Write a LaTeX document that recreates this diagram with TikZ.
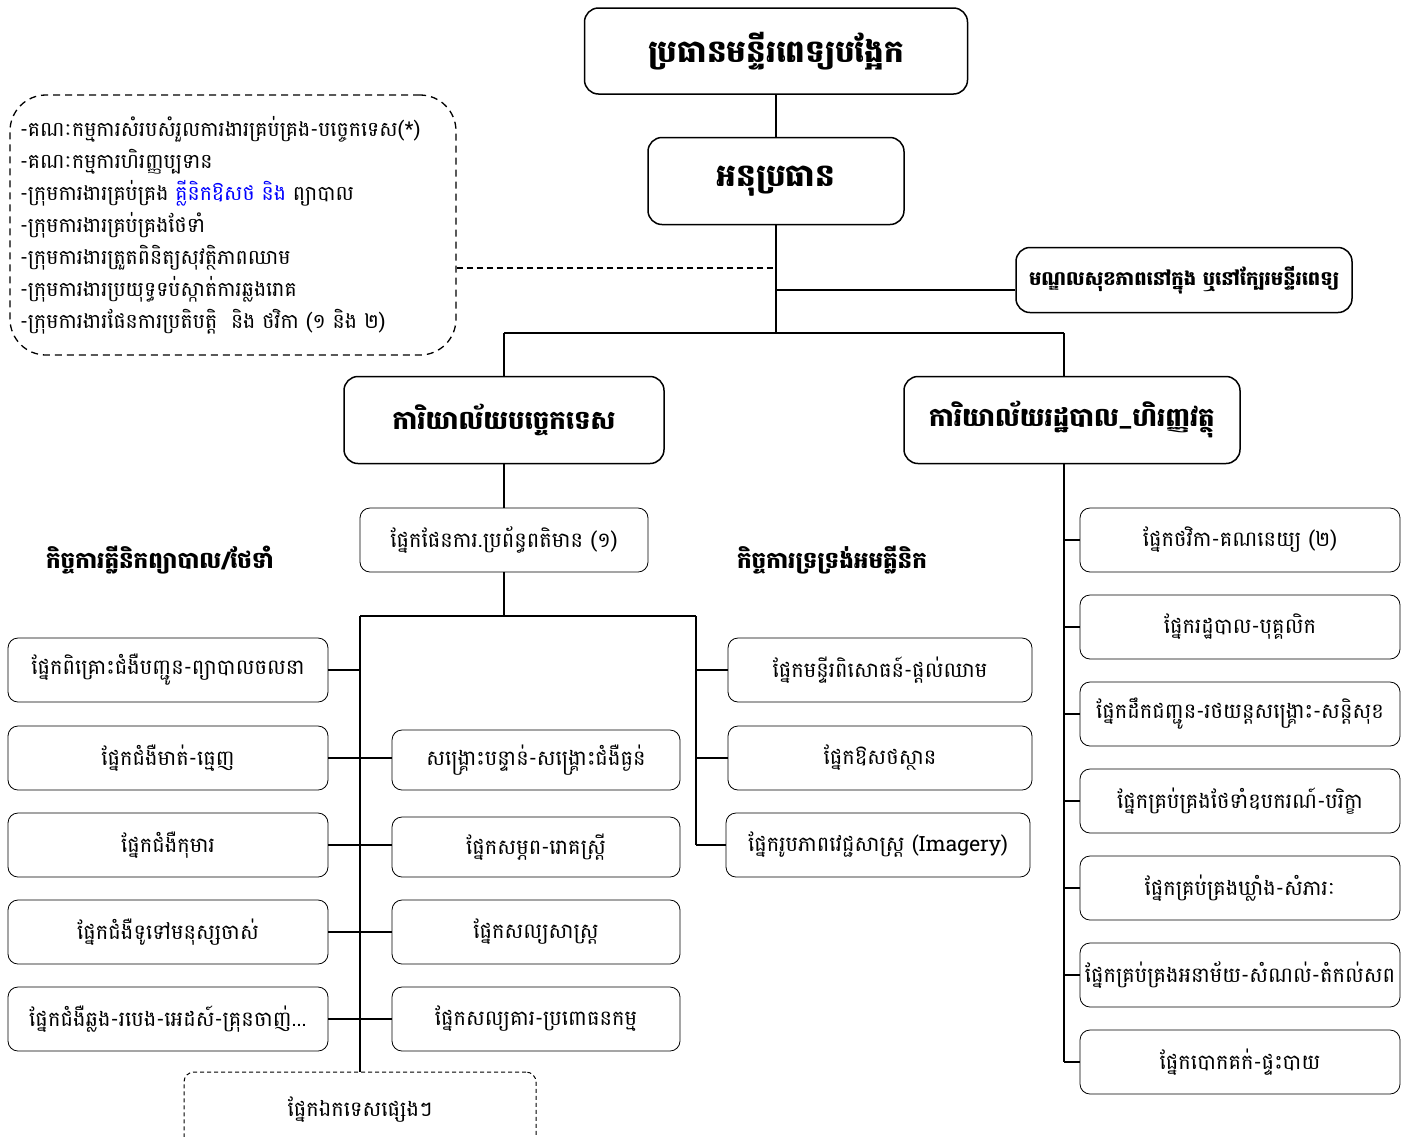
\documentclass[tikz,border=0pt]{standalone}
\usepackage{fontspec}
\newfontfamily\khmerfont[Script=Khmer]{Battambang}
\usetikzlibrary{positioning}

\begin{document}
\begin{tikzpicture}[x=1pt, y=-1pt,
    font=\khmerfont\fontsize{21}{32}\selectfont,
    topbox/.style={draw, rounded corners=14pt, line width=1.5pt, align=center,
        font=\khmerfont\bfseries\fontsize{31}{36}\selectfont},
    officebox/.style={topbox, font=\khmerfont\bfseries\fontsize{26}{30}\selectfont},
    wardbox/.style={draw, rounded corners=10pt, line width=0.8pt, align=center, minimum height=64pt},
    notebox/.style={draw, dash pattern=on 7pt off 5pt, line width=1.3pt, rounded corners=36pt},
    groupname/.style={font=\khmerfont\bfseries\fontsize{23}{28}\selectfont},
    link/.style={line width=1.4pt}]
    \useasboundingbox (0,0) rectangle (1414,1136);
    % leadership
    \node[topbox, minimum width=383pt, minimum height=86pt] (chief) at (776,51) {ប្រធានមន្ទីរពេទ្យបង្អែក};
    \node[topbox, minimum width=256pt, minimum height=87pt] (deputy) at (776,181) {អនុប្រធាន};
    \node[topbox, font=\khmerfont\bfseries\fontsize{19.5}{24}\selectfont, minimum width=336pt, minimum height=65pt] (centre) at (1184,280) {មណ្ឌលសុខភាពនៅក្នុង ឬនៅក្បែរមន្ទីរពេទ្យ};
    \node[notebox, font=\khmerfont\fontsize{20.5}{32}\selectfont, minimum width=446pt, minimum height=260pt, text width=426pt, align=left] (groups) at (233,225)
        {-គណៈកម្មការសំរបសំរួលការងារគ្រប់គ្រង-បច្ចេកទេស(*)\\
         -គណៈកម្មការហិរញ្ញប្បទាន\\
         -ក្រុមការងារគ្រប់គ្រង \textcolor{blue}{គ្លីនិកឱសថ និង} ព្យាបាល\\
         -ក្រុមការងារគ្រប់គ្រងថែទាំ\\
         -ក្រុមការងារត្រួតពិនិត្យសុវត្ថិភាពឈាម\\
         -ក្រុមការងារប្រយុទ្ធទប់ស្កាត់ការឆ្លងរោគ\\
         -ក្រុមការងារផែនការប្រតិបត្តិ\ \ និង ថវិកា (១ និង ២)};
    % offices
    \node[officebox, minimum width=320pt, minimum height=87pt] (tech) at (504,420) {ការិយាល័យបច្ចេកទេស};
    \node[officebox, minimum width=336pt, minimum height=87pt] (admin) at (1072,420) {ការិយាល័យរដ្ឋបាល\_ហិរញ្ញវត្ថុ};
    \node[wardbox, minimum width=288pt] (plan) at (504,540) {ផ្នែកផែនការ.ប្រព័ន្ធពតិមាន (១)};
    \node[groupname] (clinic) at (160,560) {កិច្ចការគ្លីនិកព្យាបាល/ថែទាំ};
    \node[groupname] (support) at (832,560) {កិច្ចការទ្រទ្រង់អមគ្លីនិក};
    % clinical wards
    \node[wardbox, minimum width=320pt] (consult) at (168,670) {ផ្នែកពិគ្រោះជំងឺបញ្ជូន-ព្យាបាលចលនា};
    \node[wardbox, minimum width=320pt] (dental) at (168,758) {ផ្នែកជំងឺមាត់-ធ្មេញ};
    \node[wardbox, minimum width=320pt] (paed) at (168,845) {ផ្នែកជំងឺកុមារ};
    \node[wardbox, minimum width=320pt] (elder) at (168,932) {ផ្នែកជំងឺទូទៅមនុស្សចាស់};
    \node[wardbox, minimum width=320pt] (infect) at (168,1019) {ផ្នែកជំងឺឆ្លង-របេង-អេដស៍-គ្រុនចាញ់...};
    \node[wardbox, minimum width=288pt, minimum height=60pt] (emerg) at (536,760) {សង្គ្រោះបន្ទាន់-សង្គ្រោះជំងឺធ្ងន់};
    \node[wardbox, minimum width=288pt, minimum height=60pt] (matern) at (536,847) {ផ្នែកសម្ភព-រោគស្ត្រី};
    \node[wardbox, minimum width=288pt] (surg) at (536,932) {ផ្នែកសល្យសាស្ត្រ};
    \node[wardbox, minimum width=288pt] (theatre) at (536,1019) {ផ្នែកសល្យគារ-ប្រពោធនកម្ម};
    \node[wardbox, line width=1pt, dash pattern=on 4pt off 3pt, minimum width=352pt, minimum height=76pt] (other) at (360,1110) {ផ្នែកឯកទេសផ្សេងៗ};
    % support wards
    \node[wardbox, minimum width=304pt] (lab) at (880,670) {ផ្នែកមន្ទីរពិសោធន៍-ផ្តល់ឈាម};
    \node[wardbox, minimum width=304pt] (pharma) at (880,758) {ផ្នែកឱសថស្ថាន};
    \node[wardbox, minimum width=304pt] (imaging) at (878,845) {ផ្នែករូបភាពវេជ្ជសាស្ត្រ (Imagery)};
    % admin sections
    \node[wardbox, minimum width=320pt] (budget) at (1240,540) {ផ្នែកថវិកា-គណនេយ្យ (២)};
    \node[wardbox, minimum width=320pt] (staff) at (1240,627) {ផ្នែករដ្ឋបាល-បុគ្គលិក};
    \node[wardbox, minimum width=320pt] (transport) at (1240,714) {ផ្នែកដឹកជញ្ជូន-រថយន្តសង្គ្រោះ-សន្តិសុខ};
    \node[wardbox, minimum width=320pt] (equip) at (1240,801) {ផ្នែកគ្រប់គ្រងថែទាំឧបករណ៍-បរិក្ខា};
    \node[wardbox, minimum width=320pt] (store) at (1240,888) {ផ្នែកគ្រប់គ្រងឃ្លាំង-សំភារៈ};
    \node[wardbox, minimum width=320pt] (hygiene) at (1240,975) {ផ្នែកគ្រប់គ្រងអនាម័យ-សំណល់-តំកល់សព};
    \node[wardbox, minimum width=320pt] (laundry) at (1240,1062) {ផ្នែកបោកគក់-ផ្ទះបាយ};
    % junctions
    \coordinate (fork) at (776,333);
    \coordinate (fork-l) at (504,333);
    \coordinate (fork-r) at (1064,333);
    \coordinate (note-in) at (776,268);
    \coordinate (centre-in) at (776,290);
    \coordinate (split) at (504,616);
    \coordinate (split-l) at (360,616);
    \coordinate (split-r) at (696,616);
    % connectors
    \draw[link] (chief) -- (deputy);
    \draw[link] (deputy) -- (fork);
    \draw[link] (fork-l) -- (fork-r);
    \draw[link] (fork-l) -- (tech);
    \draw[link] (fork-r) -- (fork-r |- admin.north);
    \draw[link] (centre-in) -- (centre.west |- centre-in);
    \draw[link, dash pattern=on 6pt off 4pt] (groups.east |- note-in) -- (note-in);
    \draw[link] (tech) -- (plan);
    \draw[link] (plan) -- (split);
    \draw[link] (split-l) -- (split-r);
    \draw[link] (split-l) -- (other.north);
    \draw[link] (split-r) -- (split-r |- imaging.west);
    \draw[link] (consult.east) -- (split-l |- consult.east);
    \draw[link] (dental.east) -- (emerg.west |- dental.east);
    \draw[link] (paed.east) -- (matern.west |- paed.east);
    \draw[link] (elder.east) -- (surg.west);
    \draw[link] (infect.east) -- (theatre.west);
    \draw[link] (lab.west) -- (split-r |- lab.west);
    \draw[link] (pharma.west) -- (split-r |- pharma.west);
    \draw[link] (imaging.west) -- (split-r |- imaging.west);
    \draw[link] (fork-r |- admin.south) -- (fork-r |- laundry.west);
    \draw[link] (budget.west) -- (fork-r |- budget.west);
    \draw[link] (staff.west) -- (fork-r |- staff.west);
    \draw[link] (transport.west) -- (fork-r |- transport.west);
    \draw[link] (equip.west) -- (fork-r |- equip.west);
    \draw[link] (store.west) -- (fork-r |- store.west);
    \draw[link] (hygiene.west) -- (fork-r |- hygiene.west);
    \draw[link] (laundry.west) -- (fork-r |- laundry.west);
\end{tikzpicture}
\end{document}
